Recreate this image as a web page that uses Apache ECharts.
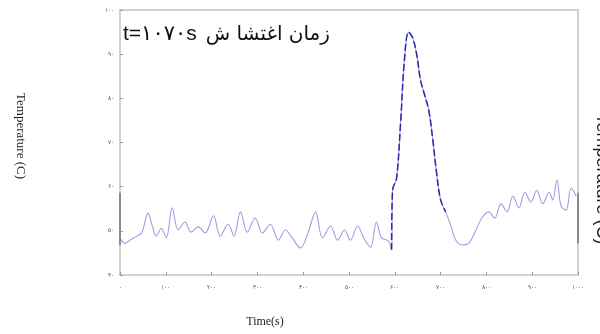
<!DOCTYPE html>
<html>
<head>
<meta charset="utf-8">
<script src="https://cdn.jsdelivr.net/npm/echarts@6/dist/echarts.min.js"></script>
<style>
  html, body { margin: 0; padding: 0; background: #fff; }
  #chart { width: 600px; height: 334px; }
</style>
</head>
<body>
<div id="chart"></div>
<script>
// Time axis (s) and temperature readings (C)
const timeS = [0, 11, 22, 37, 48, 61, 70, 79, 90, 101, 114, 127, 142, 155, 171, 186, 204, 219, 236, 249,
  263, 278, 295, 311, 328, 346, 361, 376, 394, 411, 427, 442, 460, 475, 490, 503, 519, 532, 547, 560,
  571, 586, 593, 595, 604, 613, 621, 630, 639, 648, 656, 665, 674, 683, 691, 700, 711, 722, 733, 746,
  759, 775, 790, 805, 818, 832, 845, 858, 871, 884, 897, 910, 923, 937, 945, 954, 963, 974, 985, 996];
const tempC = [48.4, 47.2, 47.9, 48.8, 49.7, 54.0, 51.3, 48.8, 50.6, 48.4, 55.2, 50.2, 52.0, 49.7, 50.9, 49.5, 53.4, 48.8, 51.5, 48.8,
  54.3, 49.7, 52.9, 49.5, 51.5, 47.9, 50.2, 48.4, 46.1, 49.7, 54.3, 48.4, 51.1, 47.9, 50.2, 47.9, 51.1, 48.4, 46.3, 52.0,
  48.4, 47.7, 45.7, 59.2, 62.0, 75.1, 88.7, 95.0, 93.7, 89.8, 84.2, 80.8, 77.4, 70.6, 63.3, 57.0, 54.3, 51.3, 47.9, 46.8,
  47.0, 49.7, 52.9, 54.3, 52.9, 56.1, 54.3, 57.9, 55.2, 58.8, 56.5, 59.2, 56.1, 58.8, 57.0, 61.5, 55.6, 54.7, 59.7, 57.9];

// Disturbance window drawn in a darker dashed stroke
const peakStart = 593, peakEnd = 711;

// Edge segments at the start and end of the record
const edgeSegments = [
  [[0, 58.6], [0, 46.8]],
  [[1000, 58.6], [1000, 47.2]]
];

const xTicks = [0, 100, 200, 300, 400, 500, 600, 700, 800, 900, 1000];
const yTicks = [40, 50, 60, 70, 80, 90, 100];

const faDigits = '۰۱۲۳۴۵۶۷۸۹';
const toFa = v => String(v).replace(/[0-9]/g, d => faDigits[+d]);

const mainData = timeS.map((t, i) => [t, tempC[i]]);
const peakData = mainData.filter(p => p[0] >= peakStart && p[0] <= peakEnd);

const chart = echarts.init(document.getElementById('chart'), null, { renderer: 'canvas' });

const series = [
  {
    type: 'line', data: mainData, smooth: 0.35, showSymbol: false,
    lineStyle: { color: '#9d9de2', width: 1.1 }, z: 2
  },
  {
    type: 'line', data: peakData, smooth: 0.35, showSymbol: false,
    lineStyle: { color: '#2a2aa8', width: 1.5, type: [7, 3] }, z: 3
  }
];
edgeSegments.forEach(seg => series.push({
  type: 'line', data: seg, showSymbol: false,
  lineStyle: { color: '#8c8c8c', width: 2 }, z: 4
}));

chart.setOption({
  animation: false,
  backgroundColor: '#ffffff',
  grid: { left: 120, right: 22, top: 10, bottom: 59, show: true, borderColor: '#d2d2d2', borderWidth: 2 },
  xAxis: {
    type: 'value', min: xTicks[0], max: xTicks[xTicks.length - 1], interval: 100,
    axisLine: { show: true, lineStyle: { color: '#d2d2d2', width: 2 } },
    axisTick: { show: true, inside: true, length: 3, lineStyle: { color: '#999' } },
    splitLine: { show: false },
    axisLabel: { fontSize: 6, color: '#555', margin: 9, formatter: v => toFa(v) }
  },
  yAxis: {
    type: 'value', min: yTicks[0], max: yTicks[yTicks.length - 1], interval: 10,
    axisLine: { show: true, lineStyle: { color: '#d2d2d2', width: 2 } },
    axisTick: { show: true, inside: true, length: 3, lineStyle: { color: '#999' } },
    splitLine: { show: false },
    axisLabel: { fontSize: 6, color: '#555', margin: 6, formatter: v => toFa(v) }
  },
  series: series,
  graphic: [
    {
      type: 'text', left: 123, top: 24,
      style: {
        text: '{a|t=۱۰۷۰s}{b|زمان اغتشا ش}',
        rich: {
          a: { font: '21px "Liberation Sans", "DejaVu Sans", sans-serif', fill: '#111' },
          b: { font: '20px "DejaVu Sans", sans-serif', fill: '#111', padding: [0, 0, 0, 9] }
        }
      }
    },
    {
      type: 'text', x: 20, y: 136, rotation: -Math.PI / 2,
      style: { text: 'Temperature (C)', font: '13px "Liberation Serif", serif', fill: '#222', align: 'center', verticalAlign: 'middle' }
    },
    {
      type: 'text', x: 602, y: 179, rotation: -Math.PI / 2,
      style: { text: 'Temperature (C)', font: '18px "Liberation Sans", sans-serif', fill: '#222', align: 'center', verticalAlign: 'middle' }
    },
    {
      type: 'text', x: 265, y: 322,
      style: { text: 'Time(s)', font: '12px "Liberation Serif", serif', fill: '#222', align: 'center', verticalAlign: 'middle' }
    }
  ]
});
</script>
</body>
</html>
